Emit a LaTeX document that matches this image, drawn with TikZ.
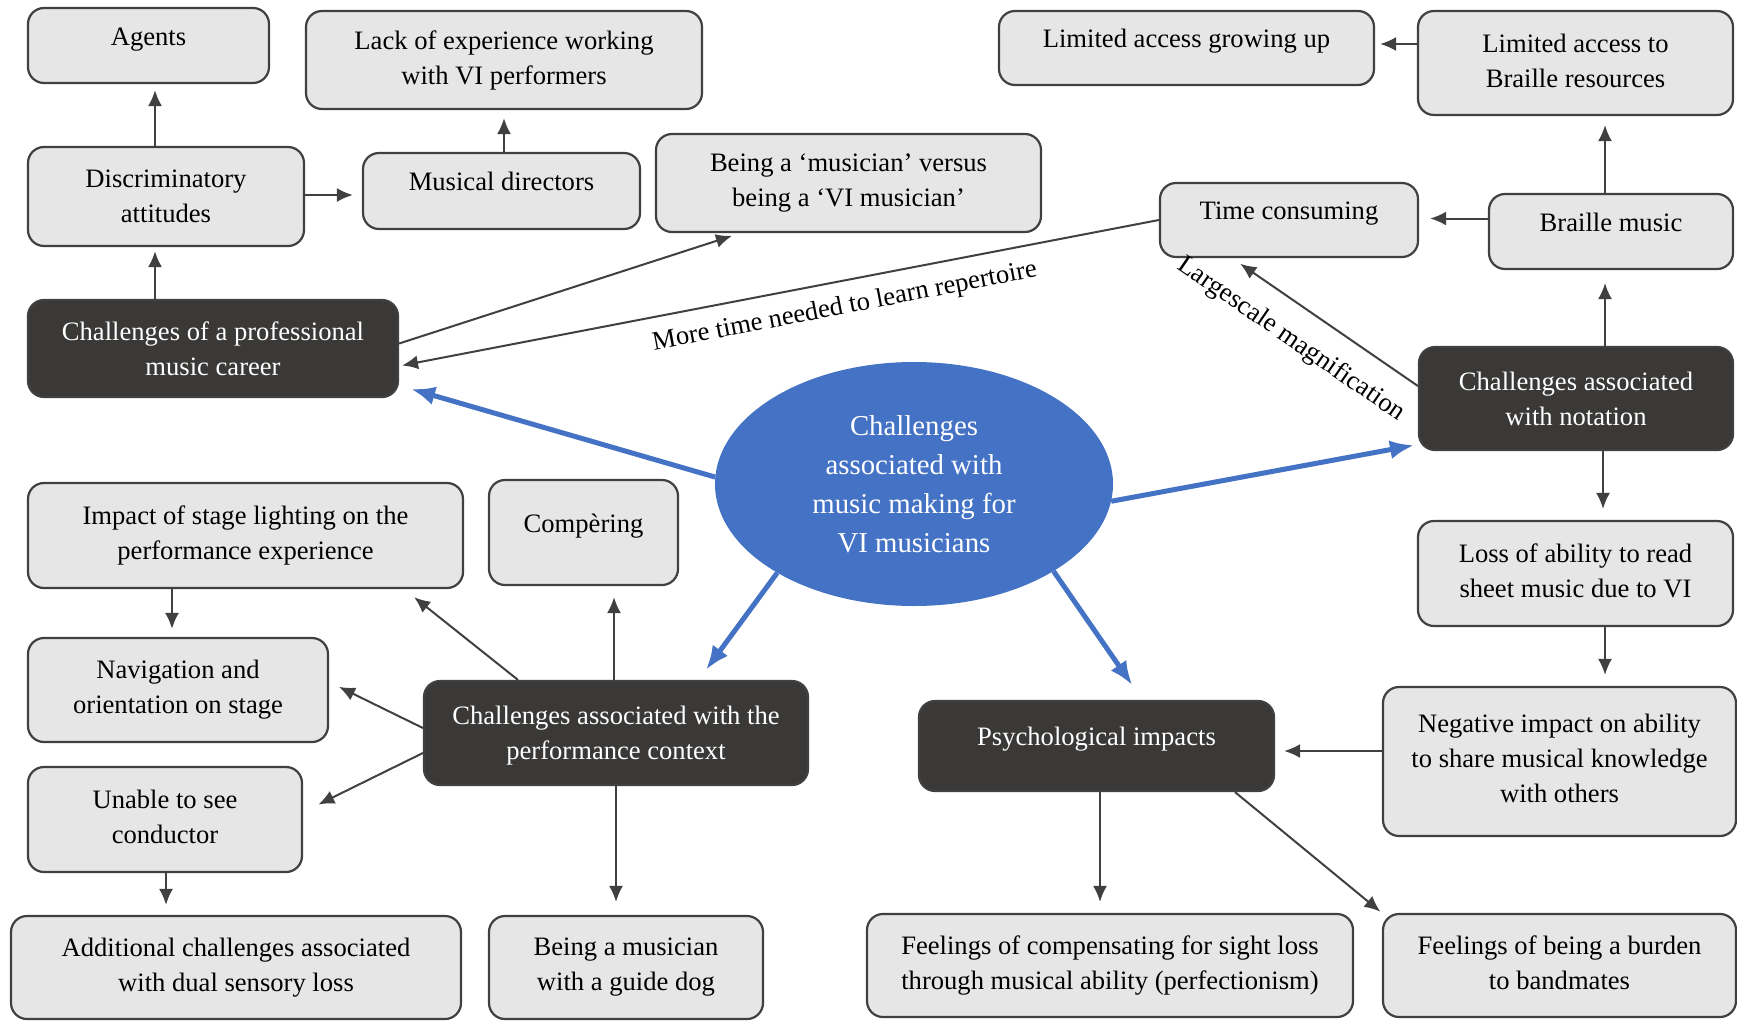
\documentclass[tikz,border=0pt]{standalone}
\usepackage{fontspec}
\setmainfont{Liberation Serif}
\usetikzlibrary{arrows.meta,shapes.geometric,calc}
\definecolor{boxgrey}{RGB}{230,230,230}
\definecolor{edgegrey}{RGB}{64,64,64}
\definecolor{themegrey}{RGB}{58,57,56}
\definecolor{hubblue}{RGB}{68,114,196}
\tikzset{>={Latex[length=16pt,width=14pt]}}
\tikzset{
  box/.style={draw=edgegrey, fill=boxgrey, line width=2.2pt, rounded corners=16pt, align=center},
  theme/.style={box, fill=themegrey, text=white},
  oneline/.style={text height=0.7em, text depth=0.72em},
  link/.style={->, draw=edgegrey, line width=2pt},
  hublink/.style={-{Latex[length=24pt,width=19pt]}, draw=hubblue, line width=5pt},
}

\begin{document}
\begin{tikzpicture}[x=1pt, y=-1pt, font=\fontsize{26.6}{35}\selectfont]
  \useasboundingbox (0,0) rectangle (1737,1023);

  % professional career
  \node[box, oneline, minimum width=241pt, minimum height=75pt] (agents) at (148.5,45.5) {Agents};
  \node[box, minimum width=396pt, minimum height=98pt] (lack) at (504,60) {Lack of experience working\\with VI performers};
  \node[box, minimum width=276pt, minimum height=99pt] (discrim) at (166,196.5) {Discriminatory\\attitudes};
  \node[box, oneline, minimum width=277pt, minimum height=76pt] (musdir) at (501.5,191) {Musical directors};
  \node[box, minimum width=385pt, minimum height=98pt] (being) at (848.5,183) {Being a ‘musician’ versus\\being a ‘VI musician’};
  \node[theme, minimum width=370pt, minimum height=97pt] (career) at (213,348.5) {Challenges of a professional\\music career};

  % notation
  \node[box, oneline, minimum width=375pt, minimum height=74pt] (limgrow) at (1186.5,48) {Limited access growing up};
  \node[box, text depth=0.5em, minimum width=315pt, minimum height=104pt] (limbraille) at (1575.5,63) {Limited access to\\Braille resources};
  \node[box, oneline, minimum width=258pt, minimum height=74pt] (timecons) at (1289,220) {Time consuming};
  \node[box, oneline, minimum width=244pt, minimum height=75pt] (braille) at (1611,231.5) {Braille music};
  \node[theme, minimum width=314pt, minimum height=103pt] (notation) at (1576,398.5) {Challenges associated\\with notation};
  \node[box, text depth=0.5em, minimum width=315pt, minimum height=105pt] (sightread) at (1575.5,573.5) {Loss of ability to read\\sheet music due to VI};
  \node[box, text depth=0.55em, minimum width=353pt, minimum height=149pt] (sharing) at (1559.5,761.5) {Negative impact on ability\\to share musical knowledge\\with others};

  % centre
  \node[ellipse, fill=hubblue, text=white, align=center, inner sep=0pt,
        minimum width=398pt, minimum height=244pt,
        font=\fontsize{28.8}{39}\selectfont] (hub) at (914,484) {Challenges\\associated with\\music making for\\VI musicians};

  % performance context
  \node[box, minimum width=435pt, minimum height=105pt] (lighting) at (245.5,535.5) {Impact of stage lighting on the\\performance experience};
  \node[box, oneline, minimum width=189pt, minimum height=105pt] (compering) at (583.5,532.5) {Compèring};
  \node[box, minimum width=300pt, minimum height=104pt] (navigation) at (178,690) {Navigation and\\orientation on stage};
  \node[theme, text depth=0pt, minimum width=384pt, minimum height=104pt] (context) at (616,733) {Challenges associated with the\\performance context};
  \node[box, text depth=0.5em, minimum width=274pt, minimum height=105pt] (conductor) at (165,819.5) {Unable to see\\conductor};
  \node[box, minimum width=450pt, minimum height=103pt] (dual) at (236,967.5) {Additional challenges associated\\with dual sensory loss};
  \node[box, minimum width=274pt, minimum height=103pt] (guidedog) at (626,967.5) {Being a musician\\with a guide dog};

  % psychological
  \node[theme, oneline, minimum width=355pt, minimum height=90pt] (psych) at (1096.5,746) {Psychological impacts};
  \node[box, minimum width=486pt, minimum height=103pt] (perfection) at (1110,965.5) {Feelings of compensating for sight loss\\through musical ability (perfectionism)};
  \node[box, text depth=0.5em, minimum width=353pt, minimum height=103pt] (burden) at (1559.5,965.5) {Feelings of being a burden\\to bandmates};

  % career links
  \draw[link, shorten >=4pt] ([xshift=-58pt]career.north) -- ([xshift=-58pt]career.north |- discrim.south);
  \draw[link, shorten >=6pt] ([xshift=-11pt]discrim.north) -- ([xshift=-11pt]discrim.north |- agents.south);
  \draw[link, shorten >=9pt] ([yshift=1.5pt]discrim.east) -- ([yshift=1.5pt]discrim.east -| musdir.west);
  \draw[link, shorten >=8pt] ([xshift=2.5pt]musdir.north) -- ([xshift=2.5pt]musdir.north |- lack.south);
  \draw[link, shorten >=9pt] ([yshift=5pt]career.east) -- ([xshift=-108pt]being.south);
  \draw[link, shorten >=3pt] (timecons.west) -- node[pos=0.42, sloped, below=10pt] {More time needed to learn repertoire} ([yshift=-17.5pt]career.east);

  % notation links
  \draw[link, shorten >=13pt] ([xshift=29pt]notation.north) -- ([xshift=29pt]notation.north |- braille.south);
  \draw[link, shorten >=11pt] ([yshift=13pt]braille.west) -- ([yshift=13pt]braille.west -| timecons.east);
  \draw[link, shorten >=9pt] ([xshift=-6pt]braille.north) -- ([xshift=-6pt]braille.north |- limbraille.south);
  \draw[link, shorten >=5pt] ([yshift=19pt]limbraille.west) -- ([yshift=19pt]limbraille.west -| limgrow.east);
  \draw[link, shorten >=10pt] ([yshift=12.5pt]notation.west) -- node[pos=0.58, sloped, below=17pt] {Largescale magnification} ([xshift=-57pt]timecons.south);
  \draw[link, shorten >=11pt] ([xshift=27pt]notation.south) -- ([xshift=27pt]notation.south |- sightread.north);
  \draw[link, shorten >=11pt] ([xshift=29.5pt]sightread.south) -- ([xshift=29.5pt]sightread.south |- sharing.north);
  \draw[link, shorten >=9pt] ([yshift=10.5pt]sharing.west) -- ([yshift=10.5pt]sharing.west -| psych.east);

  % psychological links
  \draw[link, shorten >=11pt] ([xshift=3.5pt]psych.south) -- ([xshift=3.5pt]psych.south |- perfection.north);
  \draw[link, shorten >=2pt] ([xshift=138.5pt]psych.south) -- (burden.north west);

  % context links
  \draw[link, shorten >=13pt] ([xshift=-98pt]context.north) -- ([xshift=158.5pt]lighting.south);
  \draw[link, shorten >=11pt] ([xshift=-2pt]context.north) -- ([xshift=-2pt]context.north |- compering.south);
  \draw[link, shorten >=11pt] ([yshift=5pt]context.west) -- ([yshift=8pt]navigation.east);
  \draw[link, shorten >=17pt] ([yshift=-20pt]context.west) -- ([yshift=7.5pt]conductor.east);
  \draw[link, shorten >=13pt] (context.south) -- (context.south |- guidedog.north);
  \draw[link, shorten >=8pt] ([xshift=-73.5pt]lighting.south) -- ([xshift=-73.5pt]lighting.south |- navigation.north);
  \draw[link, shorten >=10pt] ([xshift=1pt]conductor.south) -- ([xshift=1pt]conductor.south |- dual.north);

  % from the centre
  \draw[hublink, shorten >=12.5pt] (hub.178) -- ([yshift=-37pt]career.east);
  \draw[hublink, shorten >=4pt] (hub.-5) -- ([yshift=-46pt]notation.west);
  \draw[hublink, shorten >=12.5pt] (hub.213) -- ([xshift=82.6pt]context.north);
  \draw[hublink, shorten >=18pt] (hub.-32) -- ([xshift=46pt]psych.north);
\end{tikzpicture}
\end{document}
